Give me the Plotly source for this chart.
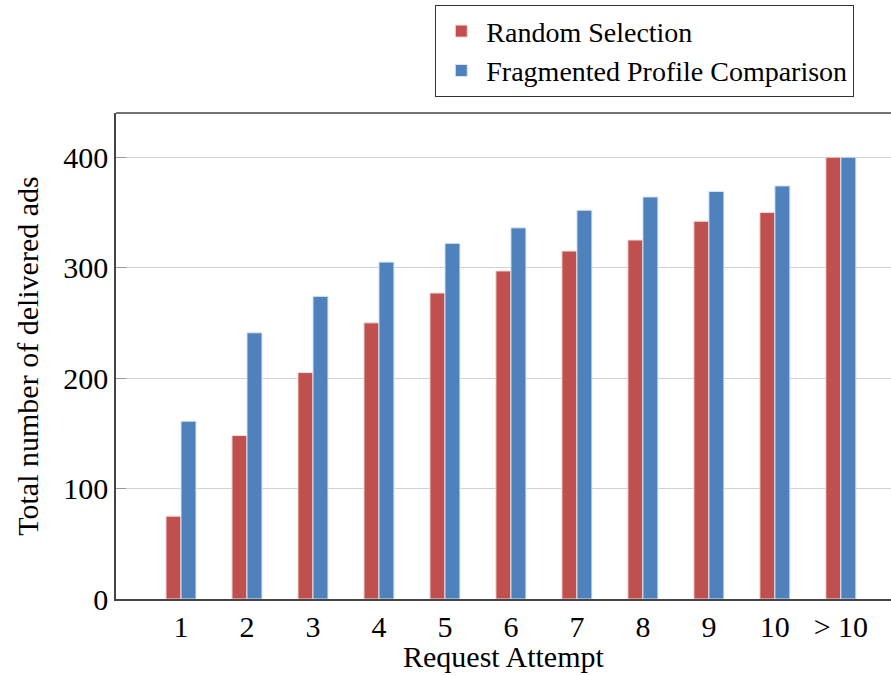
import plotly.graph_objects as go

categories = ["1", "2", "3", "4", "5", "6", "7", "8", "9", "10", "> 10"]
random_selection = [75, 148, 205, 250, 277, 297, 315, 325, 342, 350, 400]
fragmented_profile = [161, 241, 274, 305, 322, 336, 352, 364, 369, 374, 400]
y_ticks = [0, 100, 200, 300, 400]

xpos = list(range(1, len(categories) + 1))
FONT = "Liberation Serif"
FS = 30

fig = go.Figure()
fig.add_trace(go.Bar(
    x=xpos, y=random_selection, name="Random Selection",
    marker=dict(color="#c0504d", line=dict(color="#f2dcdb", width=1)),
))
fig.add_trace(go.Bar(
    x=xpos, y=fragmented_profile, name="Fragmented Profile Comparison",
    marker=dict(color="#4f81bd", line=dict(color="#dce6f2", width=1)),
))

fig.update_layout(
    width=891, height=675,
    margin=dict(l=116, r=0, t=113, b=76),
    plot_bgcolor="white", paper_bgcolor="white",
    barmode="group", bargap=0.545, bargroupgap=0.0,
    font=dict(family=FONT, size=FS, color="black"),
    showlegend=True,
    legend=dict(
        x=0.4116, y=1.222, xanchor="left", yanchor="top",
        bordercolor="#333333", borderwidth=1.3, bgcolor="white",
        font=dict(family=FONT, size=28),
        itemwidth=40, tracegroupgap=0,
    ),
    xaxis=dict(
        range=[0.015, 11.76], tickmode="array", tickvals=xpos, ticktext=categories,
        showgrid=False, zeroline=False, showline=True, linecolor="#444444", linewidth=1.5,
        ticks="", tickfont=dict(family=FONT, size=FS),
    ),
    yaxis=dict(
        range=[0, 440], tickmode="array", tickvals=y_ticks,
        showgrid=True, gridcolor="#d0d0d0", gridwidth=1.3, zeroline=False,
        showline=True, linecolor="#444444", linewidth=1.5,
        ticks="inside", ticklen=10, tickcolor="#999999", tickwidth=1.3,
        tickfont=dict(family=FONT, size=FS),
        title=dict(text="Total number of delivered ads", font=dict(family=FONT, size=FS), standoff=16),
    ),
    annotations=[dict(text="Request Attempt", xref="paper", yref="paper",
                      x=0.5, y=-0.1173, xanchor="center", yanchor="middle",
                      showarrow=False, borderpad=0, font=dict(family=FONT, size=FS))],
    shapes=[dict(type="line", xref="paper", yref="paper", x0=0, x1=1, y0=1, y1=1,
                 line=dict(color="#444444", width=1.5))],
)

fig.write_html("out.html")
